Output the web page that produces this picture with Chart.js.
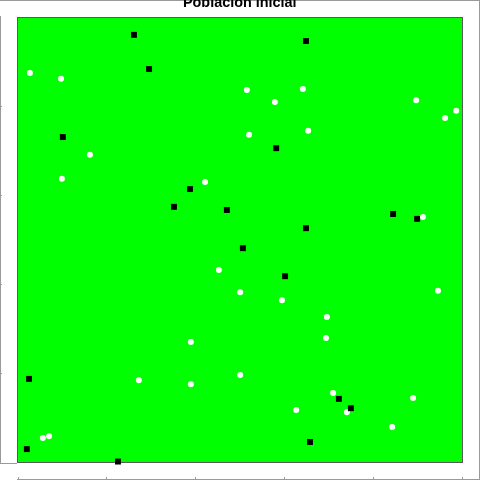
<!DOCTYPE html>
<html>
<head>
<meta charset="utf-8">
<script src="https://cdn.jsdelivr.net/npm/chart.js@4"></script>
<style>
  html, body { margin: 0; padding: 0; background: #fff; }
  #wrap { width: 480px; height: 480px; }
</style>
</head>
<body>
<div id="wrap"><canvas id="c" width="480" height="480"></canvas></div>
<script>
const titleText = 'Población inicial';
// Black squares (x, y) on a 0–100 grid
const blackX = [26.2, 29.6, 10.2, 64.9, 58.2, 38.8, 35.2, 47.1, 64.9, 50.7, 60.2, 84.5, 89.9, 2.6, 2.1, 22.6, 65.8, 72.3, 75.0];
const blackY = [96.1, 88.4, 73.1, 94.7, 70.6, 61.4, 57.4, 56.7, 52.6, 48.1, 41.8, 55.8, 54.7, 18.7, 2.9, 0.1, 4.5, 14.2, 12.1];
// White circles (x, y)
const whiteX = [2.8, 9.8, 16.3, 51.6, 64.2, 57.9, 52.1, 65.4, 89.7, 96.2, 98.7, 10.0, 42.2, 45.3, 50.1, 59.5, 91.2, 94.6, 69.6, 27.3, 5.7, 7.1, 39.0, 50.1, 39.0, 62.7, 69.4, 71.0, 89.0, 74.1, 84.3];
const whiteY = [87.5, 86.2, 69.1, 83.7, 83.9, 81.0, 73.6, 74.5, 81.4, 77.4, 79.0, 63.7, 63.0, 43.2, 38.2, 36.4, 55.1, 38.5, 32.6, 18.4, 5.4, 5.8, 27.0, 19.6, 17.5, 11.7, 27.9, 15.5, 14.4, 11.2, 7.9];
const axisTicks = [0, 20, 40, 60, 80, 100];

const toPts = (xs, ys) => xs.map((x, i) => ({ x: x, y: ys[i] }));

const framePlugin = {
  id: 'frame',
  beforeDraw(chart) {
    const ctx = chart.ctx;
    ctx.save();
    ctx.fillStyle = '#ffffff';
    ctx.fillRect(0, 0, chart.width, chart.height);
    // outer light frame
    ctx.strokeStyle = '#9a9a9a';
    ctx.lineWidth = 1;
    ctx.beginPath();
    ctx.moveTo(0, 0.5); ctx.lineTo(480, 0.5);
    ctx.moveTo(479.5, 0); ctx.lineTo(479.5, 480);
    ctx.moveTo(0.5, 16); ctx.lineTo(0.5, 463);
    ctx.moveTo(0, 463.5); ctx.lineTo(17, 463.5);
    ctx.moveTo(17, 479.5); ctx.lineTo(480, 479.5);
    const xs = chart.scales.x, ys = chart.scales.y;
    axisTicks.forEach(v => {
      const px = Math.round(xs.getPixelForValue(v)) + 0.5;
      ctx.moveTo(px, 477); ctx.lineTo(px, 480);
      const py = Math.round(ys.getPixelForValue(v)) + 0.5;
      if (v > 0 && v < 100) { ctx.moveTo(0, py); ctx.lineTo(2, py); }
    });
    ctx.stroke();
    // plot panel
    const a = chart.chartArea;
    ctx.fillStyle = '#00ff00';
    ctx.fillRect(a.left, a.top, a.right - a.left, a.bottom - a.top);
    ctx.strokeStyle = '#5a5a5a';
    ctx.strokeRect(Math.floor(a.left) + 0.5, Math.floor(a.top) + 0.5,
                   Math.floor(a.right) - Math.floor(a.left), Math.floor(a.bottom) - Math.floor(a.top));
    // title (partly cut off at the top)
    ctx.fillStyle = '#000000';
    ctx.font = 'bold 14.4px "Liberation Sans", Arial, sans-serif';
    ctx.textAlign = 'center';
    ctx.textBaseline = 'alphabetic';
    ctx.fillText(titleText, (a.left + a.right) / 2, 7);
    ctx.restore();
  }
};

new Chart(document.getElementById('c'), {
  type: 'scatter',
  data: {
    datasets: [
      {
        label: 'negros',
        data: toPts(blackX, blackY),
        pointStyle: 'rect',
        pointRadius: 4.2,
        pointBorderWidth: 0,
        backgroundColor: '#000000',
        borderColor: '#000000',
        clip: false
      },
      {
        label: 'blancos',
        data: toPts(whiteX, whiteY),
        pointStyle: 'circle',
        pointRadius: 3,
        pointBorderWidth: 0,
        backgroundColor: '#ffffff',
        borderColor: '#ffffff',
        clip: false
      }
    ]
  },
  options: {
    responsive: false,
    animation: false,
    devicePixelRatio: 1,
    layout: { padding: { left: 17.5, right: 18, top: 17.5, bottom: 18 } },
    plugins: {
      legend: { display: false },
      title: { display: false },
      tooltip: { enabled: false }
    },
    scales: {
      x: { type: 'linear', min: 0, max: 100, display: false },
      y: { type: 'linear', min: 0, max: 100, display: false }
    }
  },
  plugins: [framePlugin]
});
</script>
</body>
</html>
